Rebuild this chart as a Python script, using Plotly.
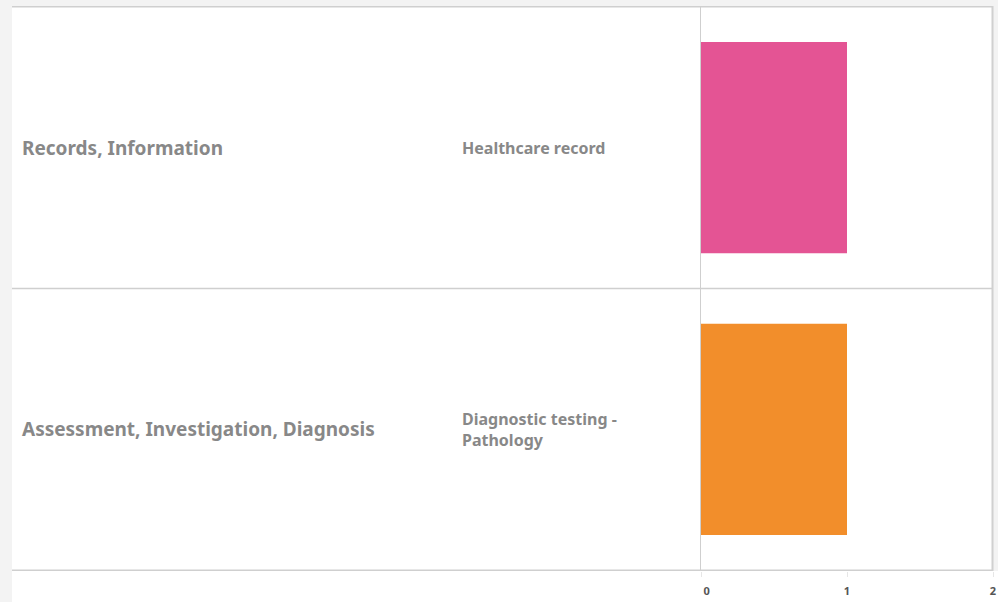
import plotly.graph_objects as go

groups = ["Records, Information", "Assessment, Investigation, Diagnosis"]
categories = ["Healthcare record", "Diagnostic testing - Pathology"]
cat_labels = ["Healthcare record", "Diagnostic testing -<br>Pathology"]
values = [1, 1]
colors = ["#E45494", "#F28E2B"]
x_ticks = [0, 1, 2]
x_tick_text = ["\u00a0\u00a0\u00a0\u00a00", "1", "2"]

W, H = 998, 602
L, R, T, B = 701, 5, 6, 31
pw = W - L - R
ph = H - T - B

def px_to_paper(px):
    return (px - L) / pw

fig = go.Figure()
fig.add_trace(go.Bar(
    x=values, y=categories, orientation="h",
    marker=dict(color=colors, line=dict(width=0)),
    width=0.75, hoverinfo="skip",
))

# gray page strips
fig.add_shape(type="rect", xref="paper", yref="paper",
              x0=px_to_paper(0), x1=px_to_paper(12), y0=-B / ph, y1=1 + T / ph,
              fillcolor="#f3f3f3", line_width=0, layer="below")
fig.add_shape(type="rect", xref="paper", yref="paper",
              x0=px_to_paper(0), x1=px_to_paper(W), y0=1, y1=1 + T / ph,
              fillcolor="#f3f3f3", line_width=0, layer="below")
fig.add_shape(type="rect", xref="paper", yref="paper",
              x0=px_to_paper(993), x1=px_to_paper(W), y0=0, y1=1 + T / ph,
              fillcolor="#f3f3f3", line_width=0, layer="below")

# row separators
for b in [-0.5, 0.5, 1.5]:
    fig.add_shape(type="line", xref="paper", yref="y",
                  x0=px_to_paper(12), x1=px_to_paper(993), y0=b, y1=b,
                  line=dict(color="#cfcfcf", width=1.5))
# right border
fig.add_shape(type="line", xref="paper", yref="paper",
              x0=px_to_paper(992.5), x1=px_to_paper(992.5), y0=0, y1=1,
              line=dict(color="#d0d0d0", width=2))

for g, c, lab in zip(groups, categories, cat_labels):
    fig.add_annotation(x=px_to_paper(20), y=c, xref="paper", yref="y",
                       text=g, showarrow=False, xanchor="left", yanchor="middle",
                       font=dict(family="Noto Sans", size=19, color="#888888", weight="bold"))
    fig.add_annotation(x=px_to_paper(460), y=c, xref="paper", yref="y",
                       text=lab, showarrow=False, xanchor="left", yanchor="middle", align="left",
                       font=dict(family="Noto Sans", size=16, color="#888888", weight="bold"))

fig.update_layout(
    width=W, height=H,
    margin=dict(l=L, r=R, t=T, b=B, pad=0, autoexpand=False),
    paper_bgcolor="white", plot_bgcolor="white",
    showlegend=False,
    bargap=0.25,
    xaxis=dict(range=[0, 2], tickvals=x_ticks, ticktext=x_tick_text,
               automargin=False, ticklabeloverflow="allow",
               showgrid=False, zeroline=False, showline=False,
               ticks="outside", ticklen=5, tickcolor="#e6e6e6",
               ticklabelstandoff=5,
               tickfont=dict(family="Noto Sans", size=11, color="#555555", weight="bold"),
               fixedrange=True),
    yaxis=dict(categoryorder="array", categoryarray=categories, autorange="reversed",
               range=[1.5, -0.5], showticklabels=False, showgrid=False, zeroline=False,
               automargin=False,
               showline=True, linecolor="#cfcfcf", linewidth=1, ticks="", fixedrange=True),
)

fig.write_html(
    "out.html",
    config={"displayModeBar": False},
    post_script="document.body.style.margin='0';document.body.style.overflow='hidden';",
)
